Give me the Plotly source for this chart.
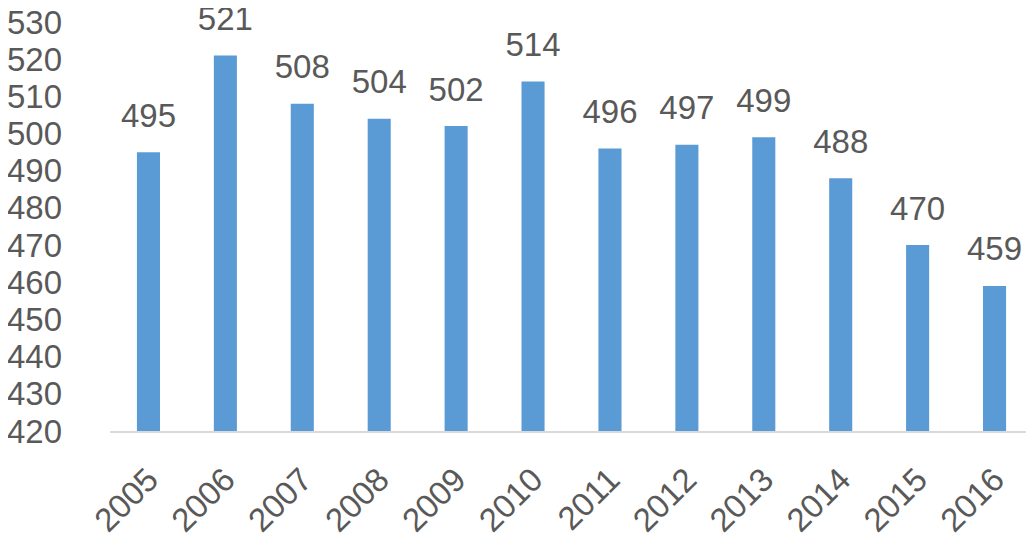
import plotly.graph_objects as go

years = ["2005", "2006", "2007", "2008", "2009", "2010",
         "2011", "2012", "2013", "2014", "2015", "2016"]
values = [495, 521, 508, 504, 502, 514, 496, 497, 499, 488, 470, 459]
y_ticks = list(range(420, 531, 10))

bar_color = "#5B9BD5"
text_color = "#595959"
font_family = "Liberation Sans"
font_size = 33

fig = go.Figure()

fig.add_trace(go.Bar(
    x=years,
    y=values,
    base=0,
    marker=dict(color=bar_color, line=dict(width=0)),
    hoverinfo="x+y",
))

# value labels sit a bit above each bar
fig.add_trace(go.Scatter(
    x=years,
    y=values,
    mode="markers+text",
    text=[str(v) for v in values],
    textposition="top center",
    textfont=dict(family=font_family, size=font_size, color=text_color),
    marker=dict(size=26, opacity=0),
    cliponaxis=False,
    hoverinfo="skip",
))

# page body has an 8px margin, so the figure is a bit smaller than the window
fig.update_layout(
    width=1026,
    height=535,
    margin=dict(l=102, r=1, t=14, b=112),
    paper_bgcolor="white",
    plot_bgcolor="white",
    showlegend=False,
    bargap=0.7,
    font=dict(family=font_family, size=font_size, color=text_color),
)

fig.update_yaxes(
    range=[420, 530],
    tickvals=y_ticks,
    showgrid=False,
    zeroline=False,
    showline=False,
    automargin=False,
    ticklabeloverflow="allow",
    ticklabelstandoff=47,
    tickfont=dict(family=font_family, size=font_size, color=text_color),
)

fig.update_xaxes(
    type="category",
    range=[-0.5, len(years) - 0.5],
    showgrid=False,
    showline=True,
    linecolor="#D9D9D9",
    linewidth=2,
    automargin=False,
    tickangle=-45,
    ticklabelstandoff=14,
    tickfont=dict(family=font_family, size=font_size, color=text_color),
)

fig.write_html("out.html")
